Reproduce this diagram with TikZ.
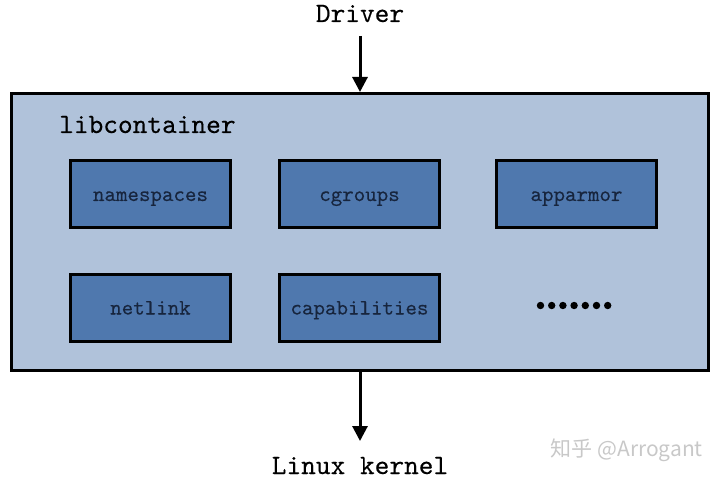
\documentclass[tikz,border=0pt]{standalone}
\usepackage{fontspec}
\newfontfamily\cjkfont{Noto Sans CJK SC}
\newfontfamily\heavymono[FakeBold=0.25]{lmmono10-regular.otf}
\usetikzlibrary{arrows.meta}
\definecolor{outerfill}{HTML}{B0C2DA}
\definecolor{innerfill}{HTML}{4F78AE}
\definecolor{innertext}{HTML}{17253D}
\definecolor{wmark}{HTML}{C8C8C8}
\tikzset{
  module/.style={draw=black, line width=3pt, fill=innerfill, minimum width=160pt, minimum height=67pt, inner sep=0pt},
  modtext/.style={anchor=base, inner sep=0pt, text=innertext, font=\heavymono\fontsize{21.9}{24}\selectfont},
  outerbox/.style={draw=black, line width=3pt, fill=outerfill, minimum width=697pt, minimum height=277pt, inner sep=0pt},
  label/.style={font=\heavymono\fontsize{28}{32}\selectfont, inner sep=0pt, text=black, anchor=base},
  flow/.style={line width=3pt, -{Triangle[width=15pt,length=15pt]}}
}
\begin{document}
\begin{tikzpicture}[x=1pt,y=-1pt]
\useasboundingbox (0,0) rectangle (720,481);
\node[outerbox] (lib) at (360,232) {};
\node[label, anchor=base west] (libname) at (59,133) {libcontainer};
\node[module] (ns) at (150.5,194.5) {};
\node[module] (cg) at (359.5,194.5) {};
\node[module] (aa) at (576.5,194.5) {};
\node[module] (nl) at (150.5,308) {};
\node[module] (cap) at (359.5,308) {};
\node[modtext] (nst) at (150.5,201) {namespaces};
\node[modtext] (cgt) at (359.5,201) {cgroups};
\node[modtext] (aat) at (576.5,201) {apparmor};
\node[modtext] (nlt) at (150.5,314.5) {netlink};
\node[modtext] (capt) at (359.5,314.5) {capabilities};
\foreach \i in {0,...,6} {\fill[black] (540.5+\i*11.2,305.5) circle (3.7);}
\node[label] (drv) at (360,22) {Driver};
\node[label] (lk) at (360,474) {Linux kernel};
\coordinate (drvend) at (360,36);
\coordinate (lkend) at (360,441);
\draw[flow] (drvend) -- (lib.north -| drvend);
\draw[flow] (lib.south -| lkend) -- (lkend);
\node[text=wmark, font=\cjkfont\fontsize{21}{24}\selectfont, anchor=east, inner sep=0pt] (wm) at (703,450) {知乎 @Arrogant};
\end{tikzpicture}
\end{document}
